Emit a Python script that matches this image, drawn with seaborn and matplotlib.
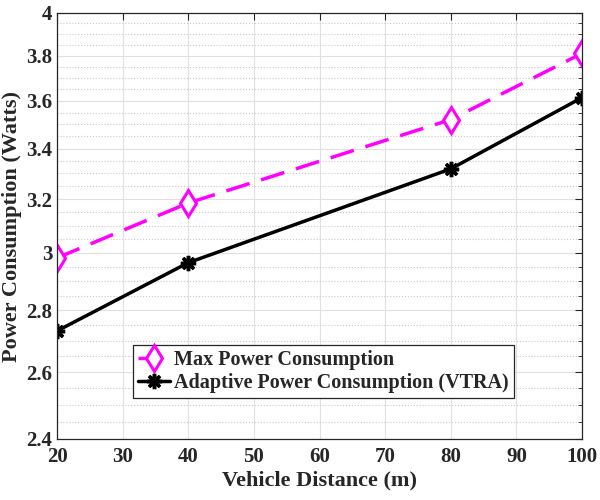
import numpy as np
import pandas as pd
import seaborn as sns
import matplotlib.pyplot as plt
from matplotlib.ticker import FixedLocator, NullFormatter

# data
distance = [20, 40, 80, 100]
max_power = [2.982, 3.185, 3.52, 3.811]
adaptive_power = [2.732, 2.965, 3.318, 3.614]

y_ticks = [2.4, 2.6, 2.8, 3.0, 3.2, 3.4, 3.6, 3.8, 4.0]
y_tick_labels = ['2.4', '2.6', '2.8', '3', '3.2', '3.4', '3.6', '3.8', '4']
x_ticks = [20, 30, 40, 50, 60, 70, 80, 90, 100]

sns.set_style('white')
plt.rcParams['font.family'] = ['Liberation Serif', 'DejaVu Serif']
plt.rcParams['font.weight'] = 'bold'

df = pd.DataFrame({'d': distance, 'max': max_power, 'adp': adaptive_power})

fig = plt.figure(figsize=(6, 5), dpi=100)
ax = fig.add_axes([0.095, 0.122, 0.875, 0.852])

sns.lineplot(data=df, x='d', y='max', ax=ax, color='#FF00FF', linewidth=2.5,
             linestyle=(0, (7, 3.5)), marker='d', markersize=13, markerfacecolor='white',
             markeredgecolor='#FF00FF', markeredgewidth=2.2,
             label='Max Power Consumption')
sns.lineplot(data=df, x='d', y='adp', ax=ax, color='black', linewidth=2.5,
             marker=(8, 2, 0), markersize=11, markeredgecolor='black', markeredgewidth=2.5,
             label='Adaptive Power Consumption (VTRA)')

ax.set_yscale('log')
ax.set_xlim(20, 100)
ax.set_ylim(2.4, 4.0)
ax.set_xticks(x_ticks)
ax.set_xticklabels([str(t) for t in x_ticks])
ax.yaxis.set_major_locator(FixedLocator(y_ticks))
ax.set_yticklabels(y_tick_labels)
minor = [v for v in np.round(np.arange(2.4, 4.0001, 0.05), 2) if v not in y_ticks]
ax.yaxis.set_minor_locator(FixedLocator(minor))
ax.yaxis.set_minor_formatter(NullFormatter())

ax.grid(True, which='major', color='#e0e0e0', linewidth=0.8)
ax.grid(True, which='minor', axis='y', color='#c8c8c8', linestyle=':', linewidth=0.8)
ax.set_axisbelow(True)

ax.tick_params(which='both', direction='in', top=True, right=True, labelsize=15)
ax.tick_params(which='major', length=5, width=0.8)
ax.tick_params(which='minor', length=3, width=0.6)
ax.tick_params(axis='x', pad=6)
for lab in ax.get_xticklabels() + ax.get_yticklabels():
    lab.set_fontweight('bold')
for s in ax.spines.values():
    s.set_color('#262626')
    s.set_linewidth(0.9)

ax.set_xlabel('Vehicle Distance (m)', fontsize=16, fontweight='bold', labelpad=2)
ax.set_ylabel('Power Consumption (Watts)', fontsize=16, fontweight='bold', labelpad=3)

leg = ax.legend(loc='upper left', bbox_to_anchor=(0.145, 0.22), fontsize=14.5,
                frameon=True, fancybox=False, edgecolor='#262626', framealpha=1,
                handlelength=1.6, handletextpad=0.2, borderpad=0.25, labelspacing=0.15,
                borderaxespad=0)
leg.get_frame().set_linewidth(0.9)
for t in leg.get_texts():
    t.set_fontweight('bold')

fig.savefig('out.png', dpi=100)
